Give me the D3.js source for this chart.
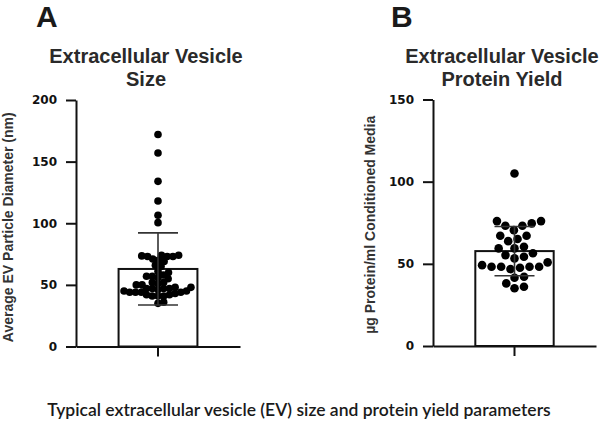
<!DOCTYPE html>
<html>
<head>
<meta charset="utf-8">
<script src="https://cdn.jsdelivr.net/npm/d3@7"></script>
<style>
  html, body { margin: 0; padding: 0; background: #fff; }
  svg { display: block; }
</style>
</head>
<body>
<svg id="chart" width="600" height="425"></svg>
<script>
// ---------------- DATA ----------------
const panelLetters = ["A", "B"];
const titlesA = ["Extracellular Vesicle", "Size"];
const titlesB = ["Extracellular Vesicle", "Protein Yield"];
const yLabelA = "Average EV Particle Diameter (nm)";
const yLabelB = "\u00b5g Protein/ml Conditioned Media";
const categoryA = ["EV Size"];
const categoryB = ["EV Protein Yield"];
const ticksA = [0, 50, 100, 150, 200];
const ticksB = [0, 50, 100, 150];
const caption = "Typical extracellular vesicle (EV) size and protein yield parameters";

// EV particle diameter (nm), one value per preparation
const sizeValues = [
  172, 157, 134, 118, 106.5, 100.5,
  73, 73, 74, 73, 74, 73.5,
  70, 69, 71,
  66, 65,
  61, 60,
  57, 58, 57, 56, 55,
  52, 51, 52, 50, 50,
  48, 47, 47, 48, 47, 46, 47,
  44, 44, 45, 43, 44, 44, 45,
  41, 42, 41, 41, 42,
  36, 35
];

// ug protein / ml conditioned media
const yieldValues = [
  105,
  74.6, 67.1, 59.4, 54.3, 48.2, 41.5, 35.1,
  73.2, 67.1, 59.4, 53.3, 48.2,
  73.2, 65.1, 60.4, 55.3, 47.6, 42.1, 36.1,
  76.0, 70.5, 63.8, 56.4, 48.2, 38.1,
  76.0, 48.2,
  50.9, 46.8, 49.2
];

// ---------------- HELPERS ----------------
const svg = d3.select("#chart");
const INK = "#111";

// simple beeswarm: place each dot at the free offset closest to the centre
function swarm(values, y, d) {
  const pts = values.map(v => ({ v, y: y(v), x: 0 }))
    .sort((a, b) => a.v - b.v);
  const placed = [];
  for (const p of pts) {
    const near = placed.filter(q => Math.abs(q.y - p.y) < d);
    const cands = [0];
    for (const q of near) {
      const dx = Math.sqrt(d * d - (q.y - p.y) ** 2);
      cands.push(q.x + dx, q.x - dx);
    }
    cands.sort((a, b) => Math.abs(a) - Math.abs(b));
    for (const c of cands) {
      if (near.every(q => (q.x - c) ** 2 + (q.y - p.y) ** 2 >= d * d - 0.01)) {
        p.x = c; break;
      }
    }
    placed.push(p);
  }
  return placed;
}

function panel(opts) {
  const g = svg.append("g");
  const y = d3.scaleLinear().domain([0, opts.max]).range([opts.y0, opts.y1]);
  const x = d3.scaleBand().domain(opts.cats).range([opts.xL, opts.xR])
    .paddingInner(0).paddingOuter(0.54);

  const mean = d3.mean(opts.values);
  const sd = d3.deviation(opts.values);
  const cx = x(opts.cats[0]) + x.bandwidth() / 2;

  // bar
  g.append("rect")
    .attr("x", x(opts.cats[0]))
    .attr("y", y(mean))
    .attr("width", x.bandwidth())
    .attr("height", y(0) - y(mean))
    .attr("fill", "#fff")
    .attr("stroke", INK)
    .attr("stroke-width", 2);

  // dots
  const pts = swarm(opts.values, y, opts.sep);
  g.append("g").selectAll("circle").data(pts).join("circle")
    .attr("cx", d => cx + d.x)
    .attr("cy", d => d.y)
    .attr("r", opts.r)
    .attr("fill", "#000");

  // error bar (mean ± SD)
  const eb = g.append("g").attr("stroke", "#333").attr("stroke-width", 1.6);
  eb.append("line").attr("x1", cx).attr("x2", cx)
    .attr("y1", y(mean + sd)).attr("y2", y(mean - sd));
  eb.append("line").attr("x1", cx - 20).attr("x2", cx + 20)
    .attr("y1", y(mean + sd)).attr("y2", y(mean + sd));
  eb.append("line").attr("x1", cx - 20).attr("x2", cx + 20)
    .attr("y1", y(mean - sd)).attr("y2", y(mean - sd));

  // y axis
  const ya = g.append("g").attr("transform", `translate(${opts.xL},0)`)
    .call(d3.axisLeft(y).tickValues(opts.ticks).tickSize(10).tickSizeOuter(0).tickPadding(9));
  ya.select(".domain").attr("stroke", INK).attr("stroke-width", 2);
  ya.selectAll(".tick line").attr("stroke", INK).attr("stroke-width", 2);
  ya.selectAll(".tick text")
    .attr("font-family", "DejaVu Sans, sans-serif")
    .attr("font-weight", "bold").attr("font-size", 12).attr("fill", INK);

  // x axis
  const xa = g.append("g").attr("transform", `translate(0,${opts.y0})`)
    .call(d3.axisBottom(x).tickSize(10).tickSizeOuter(0).tickFormat(""));
  xa.select(".domain").attr("stroke", INK).attr("stroke-width", 2);
  xa.selectAll(".tick line").attr("stroke", INK).attr("stroke-width", 2);

  // y label
  g.append("text")
    .attr("transform", `translate(${opts.labelX},${(opts.y0 + opts.y1) / 2 + opts.labelDy}) rotate(-90)`)
    .attr("text-anchor", "middle")
    .attr("font-family", "Liberation Sans, Arial, sans-serif")
    .attr("font-weight", "bold").attr("font-size", 14).attr("fill", "#333")
    .text(opts.yLabel);

  // title
  opts.title.forEach((t, i) => {
    g.append("text")
      .attr("x", opts.titleX).attr("y", 63 + i * 23)
      .attr("text-anchor", "middle")
      .attr("font-family", "Liberation Sans, Arial, sans-serif")
      .attr("font-weight", "bold").attr("font-size", 20).attr("fill", "#2a2a2a")
      .text(t);
  });

  // panel letter
  g.append("text")
    .attr("x", opts.letterX).attr("y", 27)
    .attr("font-family", "Liberation Sans, Arial, sans-serif")
    .attr("font-weight", "bold").attr("font-size", 30).attr("fill", "#1a1a1a")
    .text(opts.letter);
}

panel({
  values: sizeValues, cats: categoryA, ticks: ticksA, max: 200,
  xL: 76, xR: 240, y0: 346.5, y1: 100, r: 3.8, sep: 5.8,
  yLabel: yLabelA, labelX: 13, labelDy: 4,
  title: titlesA, titleX: 146, letter: panelLetters[0], letterX: 36
});

panel({
  values: yieldValues, cats: categoryB, ticks: ticksB, max: 150,
  xL: 433, xR: 596, y0: 346, y1: 99.5, r: 4.3, sep: 9.6,
  yLabel: yLabelB, labelX: 375, labelDy: 2,
  title: titlesB, titleX: 502, letter: panelLetters[1], letterX: 391
});

svg.append("text")
  .attr("x", 299).attr("y", 416)
  .attr("text-anchor", "middle")
  .attr("font-family", "Lato, 'Open Sans', sans-serif")
  .attr("font-weight", 600)
  .attr("font-size", 17.5).attr("fill", "#1a1a1a")
  .text(caption);
</script>
</body>
</html>
